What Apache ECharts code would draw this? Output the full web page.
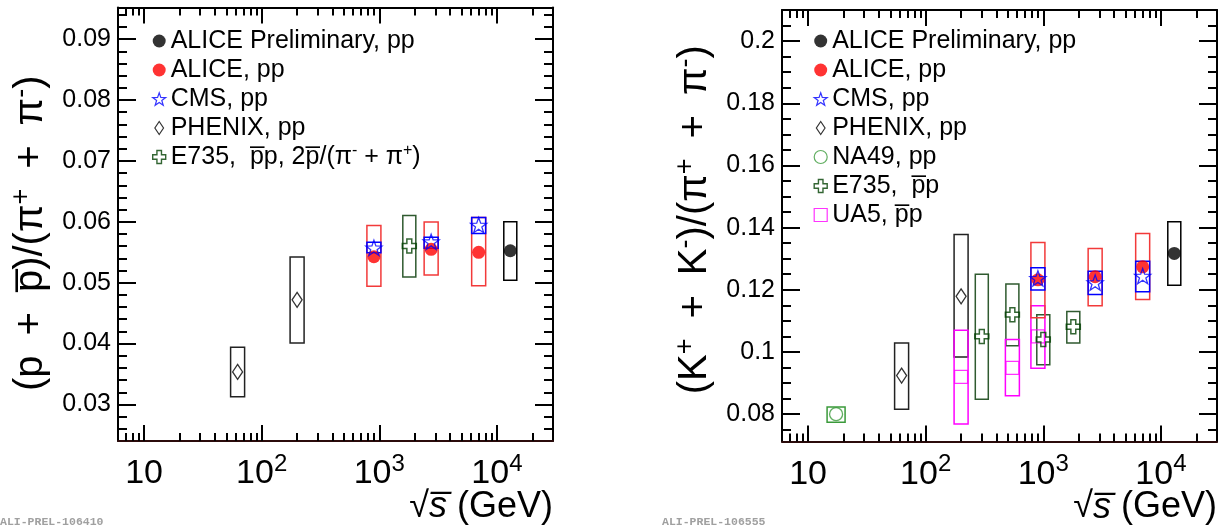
<!DOCTYPE html>
<html><head><meta charset="utf-8">
<script src="https://cdn.jsdelivr.net/npm/echarts@6/dist/echarts.min.js"></script>
<style>html,body{margin:0;padding:0;background:#fff}#c{width:1230px;height:532px}</style>
</head><body><div id="c"></div>
<script>
// ===== Left panel: (p + pbar)/(pi+ + pi-) vs sqrt(s) [GeV] =====
const pAlicePrelimX = [13000];
const pAlicePrelimY = [0.05525];
const pAlicePrelimLo = [0.0504];
const pAlicePrelimHi = [0.0600];

const pAliceX = [900, 2760, 7000];
const pAliceY = [0.05427, 0.05548, 0.05499];
const pAliceLo = [0.04943, 0.05128, 0.04948];
const pAliceHi = [0.05941, 0.05995, 0.06072];

const pCmsX = [900, 2760, 7000];
const pCmsY = [0.05573, 0.05673, 0.05946];
const pCmsLo = [0.05493, 0.05565, 0.0581];
const pCmsHi = [0.05663, 0.05745, 0.06072];

const pPhenixX = [62.4, 200];
const pPhenixY = [0.03535, 0.04719];
const pPhenixLo = [0.03126, 0.0401];
const pPhenixHi = [0.0394, 0.05422];

const pE735X = [1800];
const pE735Y = [0.05602];
const pE735Lo = [0.05095];
const pE735Hi = [0.06105];

// ===== Right panel: (K+ + K-)/(pi+ + pi-) vs sqrt(s) [GeV] =====
const kAlicePrelimX = [13000];
const kAlicePrelimY = [0.1317];
const kAlicePrelimLo = [0.1215];
const kAlicePrelimHi = [0.1419];

const kAliceX = [900, 2760, 7000];
const kAliceY = [0.1232, 0.1242, 0.1274];
const kAliceLo = [0.1110, 0.1149, 0.1169];
const kAliceHi = [0.1352, 0.1333, 0.1381];

const kCmsX = [900, 2760, 7000];
const kCmsY = [0.1237, 0.1223, 0.1244];
const kCmsLo = [0.1199, 0.1185, 0.1194];
const kCmsHi = [0.1271, 0.1260, 0.1292];

const kPhenixX = [62.4, 200];
const kPhenixY = [0.0924, 0.1179];
const kPhenixLo = [0.0816, 0.0984];
const kPhenixHi = [0.1029, 0.1378];

const kNa49X = [17.3];
const kNa49Y = [0.0800];
const kNa49Lo = [0.0774];
const kNa49Hi = [0.0823];

const kE735X = [300, 546, 1000, 1800];
const kE735Y = [0.1050, 0.1120, 0.1040, 0.1081];
const kE735Lo = [0.0848, 0.1020, 0.0959, 0.1029];
const kE735Hi = [0.1250, 0.1219, 0.1120, 0.1130];

const kUa5X = [200, 546, 900];
const kUa5Y = [0.0920, 0.0949, 0.1050];
const kUa5Lo = [0.0768, 0.0859, 0.0948];
const kUa5Hi = [0.1070, 0.1040, 0.1149];

// ===== Axis ticks and labels =====
const xMajorTicks = [10, 100, 1000, 10000];
const xMajorLabels = ['10', '10{s|2}', '10{s|3}', '10{s|4}'];
const xMinorTicks = [7, 8, 9, 20, 30, 40, 50, 60, 70, 80, 90, 200, 300, 400, 500, 600, 700, 800, 900,
  2000, 3000, 4000, 5000, 6000, 7000, 8000, 9000, 20000];
const xRange = [6, 30000];

const pYMajorTicks = [0.03, 0.04, 0.05, 0.06, 0.07, 0.08, 0.09];
const pYMinorTicks = [0.026, 0.028, 0.032, 0.034, 0.036, 0.038, 0.042, 0.044, 0.046, 0.048,
  0.052, 0.054, 0.056, 0.058, 0.062, 0.064, 0.066, 0.068, 0.072, 0.074, 0.076, 0.078,
  0.082, 0.084, 0.086, 0.088, 0.092, 0.094];
const pYRange = [0.024, 0.0952];

const kYMajorTicks = [0.08, 0.1, 0.12, 0.14, 0.16, 0.18, 0.2];
const kYMinorTicks = [0.075, 0.085, 0.09, 0.095, 0.105, 0.11, 0.115, 0.125, 0.13, 0.135,
  0.145, 0.15, 0.155, 0.165, 0.17, 0.175, 0.185, 0.19, 0.195, 0.205];
const kYRange = [0.0712, 0.21];

// ===== Texts =====
const SP = '\u2002';
const legendLabels = {
  'ALICE Preliminary, pp': 'ALICE Preliminary, pp',
  'ALICE, pp': 'ALICE, pp',
  'CMS, pp': 'CMS, pp',
  'PHENIX, pp': 'PHENIX, pp',
  'NA49, pp': 'NA49, pp',
  'E735L': 'E735,  p\u0305p, 2p\u0305/(π{s|-} + π{s|+})',
  'E735R': 'E735,  p\u0305p',
  'UA5': 'UA5, p\u0305p'
};
const pYTitle = '(p' + SP + '+' + SP + 'p\u0305)/(π{s|+}' + SP + '+' + SP + 'π{s|-})';
const kYTitle = '(K{s|+}' + SP + '+' + SP + 'K{s|-})/(π{s|+}' + SP + '+' + SP + 'π{s|-})';
const xTitle = '√{i|s\u0305} (GeV)';

// ===== Styling =====
const FONT = "'Liberation Sans', Arial, Helvetica, sans-serif";
const C = {
  black: '#000000', red: '#ff0000', redBox: '#f23a3a', blue: '#0000ff', green: '#004000',
  greenBox: '#2f5a2f', na49: '#3a9a3a', magenta: '#ff00ff', gray: '#222222'
};
const STAR = 'path://M0,-1 L0.235,-0.324 L0.951,-0.309 L0.38,0.124 L0.588,0.809 L0,0.4 L-0.588,0.809 L-0.38,0.124 L-0.951,-0.309 L-0.235,-0.324 Z';
const DIAMOND = 'path://M0,-1.5 L1,0 L0,1.5 L-1,0 Z';
const CROSS = 'path://M-0.35,-1 L0.35,-1 L0.35,-0.35 L1,-0.35 L1,0.35 L0.35,0.35 L0.35,1 L-0.35,1 L-0.35,0.35 L-1,0.35 L-1,-0.35 L-0.35,-0.35 Z';

const grids = [
  {left: 118, top: 7.5, width: 435, height: 433.5, containLabel: false, outerBoundsMode: 'none'},
  {left: 782, top: 10, width: 435, height: 431.5, containLabel: false, outerBoundsMode: 'none'}
];

function xAxesFor(g) {
  const base = {
    type: 'log', logBase: 10, min: xRange[0], max: xRange[1], gridIndex: g,
    splitLine: {show: false}, splitArea: {show: false}, minorTick: {show: false},
    axisLine: {show: true, onZero: false, lineStyle: {color: '#000', width: 2}}
  };
  const lab = {
    customValues: xMajorTicks, margin: 11, color: '#000', fontFamily: FONT, fontSize: 34, lineHeight: 44,
    formatter: v => xMajorLabels[Math.round(Math.log10(v)) - 1],
    rich: {s: {fontFamily: FONT, fontSize: 24, verticalAlign: 'top', lineHeight: 22, color: '#000'}}
  };
  return [
    Object.assign({}, base, {position: 'bottom',
      axisLine: {show: true, onZero: false, lineStyle: {color: '#2b0b0b', width: 2}},
      axisTick: {inside: true, length: 16, customValues: xMajorTicks, lineStyle: {color: '#000', width: 2}},
      axisLabel: lab,
      name: xTitle, nameLocation: 'end', nameGap: 0, nameMoveOverlap: false,
      nameTextStyle: {fontFamily: FONT, fontSize: 36, color: '#000', align: 'right', verticalAlign: 'top',
        lineHeight: 40, padding: [46, 0, 0, 0],
        rich: {i: {fontFamily: FONT, fontStyle: 'italic', fontSize: 36, lineHeight: 40, color: '#000'}}}
    }),
    Object.assign({}, base, {position: 'bottom', axisLine: {show: false, onZero: false},
      axisTick: {inside: true, length: 8, customValues: xMinorTicks, lineStyle: {color: '#000', width: 2}},
      axisLabel: {show: false}}),
    Object.assign({}, base, {position: 'top',
      axisTick: {inside: true, length: 16, customValues: xMajorTicks, lineStyle: {color: '#000', width: 2}},
      axisLabel: {show: false}}),
    Object.assign({}, base, {position: 'top', axisLine: {show: false, onZero: false},
      axisTick: {inside: true, length: 8, customValues: xMinorTicks, lineStyle: {color: '#000', width: 2}},
      axisLabel: {show: false}})
  ];
}

function yAxesFor(g, range, major, minor, title, gap, namePad) {
  const base = {
    type: 'value', min: range[0], max: range[1], gridIndex: g,
    splitLine: {show: false}, splitArea: {show: false}, minorTick: {show: false},
    axisLine: {show: true, onZero: false, lineStyle: {color: '#000', width: 2}}
  };
  return [
    Object.assign({}, base, {position: 'left',
      axisTick: {inside: true, length: 18, customValues: major, lineStyle: {color: '#000', width: 2}},
      axisLabel: {customValues: major, margin: 7, color: '#000', fontFamily: FONT, fontSize: 25},
      name: title, nameLocation: 'middle', nameRotate: 90, nameGap: gap, nameMoveOverlap: false,
      nameTextStyle: {fontFamily: FONT, fontSize: 40, color: '#000', lineHeight: 46, padding: namePad,
        rich: {s: {fontFamily: FONT, fontSize: 27, verticalAlign: 'top', lineHeight: 24, color: '#000'}}}
    }),
    Object.assign({}, base, {position: 'left', axisLine: {show: false, onZero: false},
      axisTick: {inside: true, length: 9, customValues: minor, lineStyle: {color: '#000', width: 2}},
      axisLabel: {show: false}}),
    Object.assign({}, base, {position: 'right',
      axisTick: {inside: true, length: 18, customValues: major, lineStyle: {color: '#000', width: 2}},
      axisLabel: {show: false}}),
    Object.assign({}, base, {position: 'right', axisLine: {show: false, onZero: false},
      axisTick: {inside: true, length: 9, customValues: minor, lineStyle: {color: '#000', width: 2}},
      axisLabel: {show: false}})
  ];
}

function boxSeries(name, xs, lo, hi, color, w, axisIdx) {
  return {
    type: 'custom', name: name, xAxisIndex: axisIdx, yAxisIndex: axisIdx, z: 2, silent: true,
    encode: {x: 0, y: [1, 2]},
    data: xs.map((x, i) => [x, lo[i], hi[i]]),
    renderItem: function (params, api) {
      const a = api.coord([api.value(0), api.value(1)]);
      const b = api.coord([api.value(0), api.value(2)]);
      return {type: 'rect', shape: {x: a[0] - w / 2, y: b[1], width: w, height: a[1] - b[1]},
        style: {fill: 'none', stroke: color, lineWidth: 1.5}};
    }
  };
}
function markSeries(name, xs, ys, symbol, size, itemStyle, axisIdx) {
  return {
    type: 'scatter', name: name, xAxisIndex: axisIdx, yAxisIndex: axisIdx, z: 3, silent: true,
    symbol: symbol, symbolSize: size, symbolKeepAspect: true, itemStyle: itemStyle,
    emphasis: {disabled: true},
    data: xs.map((x, i) => [x, ys[i]])
  };
}
const hollow = (c, w) => ({color: 'rgba(0,0,0,0)', borderColor: c, borderWidth: w || 1.3});

const series = [
  // left panel (axis index 0)
  boxSeries('pPhenixBox', pPhenixX, pPhenixLo, pPhenixHi, C.gray, 14, 0),
  boxSeries('pAliceBox', pAliceX, pAliceLo, pAliceHi, C.redBox, 14, 0),
  boxSeries('pE735Box', pE735X, pE735Lo, pE735Hi, C.greenBox, 13, 0),
  boxSeries('pCmsBox', pCmsX, pCmsLo, pCmsHi, C.blue, 14, 0),
  boxSeries('pAlicePrelimBox', pAlicePrelimX, pAlicePrelimLo, pAlicePrelimHi, C.black, 13, 0),
  markSeries('ALICE, pp', pAliceX, pAliceY, 'circle', 13, {color: C.red}, 0),
  markSeries('ALICE Preliminary, pp', pAlicePrelimX, pAlicePrelimY, 'circle', 13, {color: C.black}, 0),
  markSeries('PHENIX, pp', pPhenixX, pPhenixY, DIAMOND, 15, hollow(C.black), 0),
  markSeries('E735L', pE735X, pE735Y, CROSS, 14, hollow(C.green, 1.5), 0),
  markSeries('CMS, pp', pCmsX, pCmsY, STAR, 16, hollow(C.blue), 0),
  // right panel (axis index 4)
  boxSeries('kPhenixBox', kPhenixX, kPhenixLo, kPhenixHi, C.gray, 14, 4),
  boxSeries('kNa49Box', kNa49X, kNa49Lo, kNa49Hi, C.na49, 18, 4),
  boxSeries('kE735Box', kE735X, kE735Lo, kE735Hi, C.greenBox, 13, 4),
  boxSeries('kUa5Box', kUa5X, kUa5Lo, kUa5Hi, C.magenta, 14, 4),
  boxSeries('kAliceBox', kAliceX, kAliceLo, kAliceHi, C.redBox, 14, 4),
  boxSeries('kCmsBox', kCmsX, kCmsLo, kCmsHi, C.blue, 14, 4),
  boxSeries('kAlicePrelimBox', kAlicePrelimX, kAlicePrelimLo, kAlicePrelimHi, C.black, 13, 4),
  markSeries('NA49, pp', kNa49X, kNa49Y, 'circle', 13, hollow(C.na49), 4),
  markSeries('UA5', kUa5X, kUa5Y, 'rect', 13, hollow(C.magenta), 4),
  markSeries('PHENIX, pp', kPhenixX, kPhenixY, DIAMOND, 15, hollow(C.black), 4),
  markSeries('E735R', kE735X, kE735Y, CROSS, 14, hollow(C.green, 1.5), 4),
  markSeries('ALICE, pp', kAliceX, kAliceY, 'circle', 13, {color: C.red}, 4),
  markSeries('CMS, pp', kCmsX, kCmsY, STAR, 16, hollow(C.blue), 4),
  markSeries('ALICE Preliminary, pp', kAlicePrelimX, kAlicePrelimY, 'circle', 13, {color: C.black}, 4)
];

const legendItem = {
  'ALICE Preliminary, pp': {icon: 'circle', itemStyle: {color: C.black, borderWidth: 0}},
  'ALICE, pp': {icon: 'circle', itemStyle: {color: C.red, borderWidth: 0}},
  'CMS, pp': {icon: STAR, itemStyle: hollow(C.blue, 1.2)},
  'PHENIX, pp': {icon: DIAMOND, itemStyle: hollow(C.black, 1.2)},
  'NA49, pp': {icon: 'circle', itemStyle: hollow(C.na49, 1.2)},
  'E735L': {icon: CROSS, itemStyle: hollow(C.green, 1.4)},
  'E735R': {icon: CROSS, itemStyle: hollow(C.green, 1.4)},
  'UA5': {icon: 'rect', itemStyle: hollow(C.magenta, 1.2)}
};
function legendFor(left, names) {
  return {
    orient: 'vertical', left: left, top: 21.5, itemWidth: 13, itemHeight: 13, itemGap: 0,
    selectedMode: false, symbolKeepAspect: true,
    data: names.map(n => Object.assign({name: n}, legendItem[n])),
    formatter: n => legendLabels[n],
    textStyle: {fontFamily: FONT, fontSize: 25, color: '#000', lineHeight: 29,
      rich: {s: {fontFamily: FONT, fontSize: 16, verticalAlign: 'top', lineHeight: 12, color: '#000'}}}
  };
}

const option = {
  animation: false,
  backgroundColor: '#fff',
  grid: grids,
  xAxis: xAxesFor(0).concat(xAxesFor(1)),
  yAxis: yAxesFor(0, pYRange, pYMajorTicks, pYMinorTicks, pYTitle, 64, [0, 18, 0, 0])
    .concat(yAxesFor(1, kYRange, kYMajorTicks, kYMinorTicks, kYTitle, 64, [0, 0, 0, 12])),
  legend: [
    legendFor(147, ['ALICE Preliminary, pp', 'ALICE, pp', 'CMS, pp', 'PHENIX, pp', 'E735L']),
    legendFor(808.5, ['ALICE Preliminary, pp', 'ALICE, pp', 'CMS, pp', 'PHENIX, pp', 'NA49, pp', 'E735R', 'UA5'])
  ],
  graphic: [
    {type: 'text', left: 0, top: 516, style: {text: 'ALI-PREL-106410', fill: '#a0a0a0',
      font: "bold 11.5px 'Liberation Mono', 'DejaVu Sans Mono', monospace"}},
    {type: 'text', left: 662, top: 516, style: {text: 'ALI-PREL-106555', fill: '#a0a0a0',
      font: "bold 11.5px 'Liberation Mono', 'DejaVu Sans Mono', monospace"}}
  ],
  series: series
};

const chart = echarts.init(document.getElementById('c'), null, {renderer: 'canvas'});
chart.setOption(option);
</script>
</body></html>
